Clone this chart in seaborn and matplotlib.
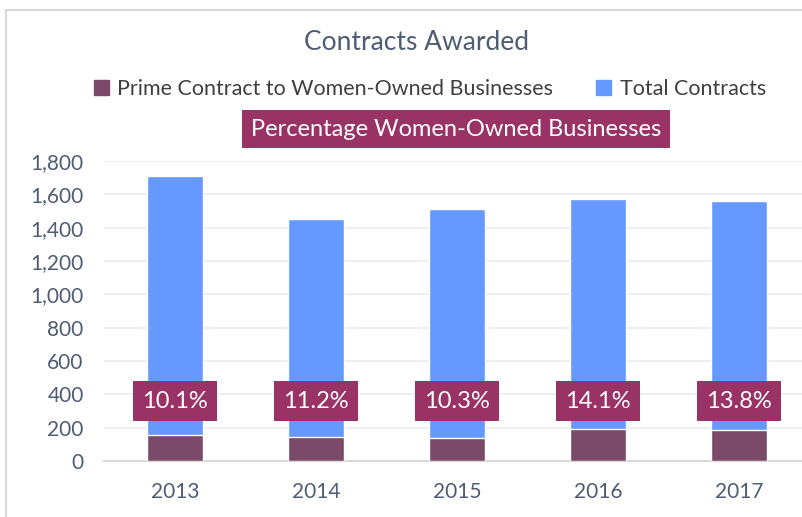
import matplotlib.pyplot as plt
import matplotlib.lines as mlines
import matplotlib.patches as mpatches
import pandas as pd
import seaborn as sns

years = ['2013', '2014', '2015', '2016', '2017']
prime = [157, 146, 141, 195, 189]
total = [1555, 1306, 1373, 1380, 1373]
pct_labels = ['10.1%', '11.2%', '10.3%', '14.1%', '13.8%']

df = pd.DataFrame({'year': years, 'prime': prime, 'total': total})
df['stacked'] = df['prime'] + df['total']

sns.set_style('white')
plt.rcParams['font.family'] = ['Lato', 'DejaVu Sans']

W, H = 803, 517
fig = plt.figure(figsize=(W / 100, H / 100), dpi=100)
ax = fig.add_axes([104.5 / W, 1 - 461 / H, 705 / W, 300 / H])

c_prime = '#7B4A68'
c_total = '#6699FF'
c_box = '#993366'
c_text = '#4F5D73'

# stacked look: draw the summed bar first, prime over it
sns.barplot(data=df, x='year', y='stacked', color=c_total, width=0.4,
            saturation=1, ax=ax, zorder=2)
sns.barplot(data=df, x='year', y='prime', color=c_prime, width=0.4,
            saturation=1, ax=ax, zorder=3)

for i, lab in enumerate(pct_labels):
    ax.text(i, 360, lab, ha='center', va='center', color='white', fontsize=17,
            zorder=5,
            bbox=dict(boxstyle='square,pad=0.4', fc=c_box, ec='none'))

ax.set_ylim(0, 1800)
ax.set_xlim(-0.5, 4.5)
ax.set_yticks(range(0, 1801, 200))
ax.set_yticklabels([f'{v:,}' for v in range(0, 1801, 200)])
ax.grid(axis='y', color='#EBEBEB', lw=1.2, zorder=0)
ax.set_axisbelow(True)
for s in ['top', 'right', 'left']:
    ax.spines[s].set_visible(False)
ax.spines['bottom'].set_color('#D9D9D9')
ax.spines['bottom'].set_linewidth(1.5)
ax.tick_params(axis='y', length=0, pad=15, labelsize=15, labelcolor=c_text)
ax.tick_params(axis='x', length=0, pad=15, labelsize=15, labelcolor=c_text)
ax.set_xlabel('')
ax.set_ylabel('')

fig.text(417 / W, 1 - 42 / H, 'Contracts Awarded', ha='center', va='center',
         fontsize=19, color=c_text)

handles = [mpatches.Patch(color=c_prime, label='Prime Contract to Women-Owned Businesses'),
           mpatches.Patch(color=c_total, label='Total Contracts')]
fig.legend(handles=handles, loc='center', bbox_to_anchor=(430 / W, 1 - 89 / H),
           ncol=2, frameon=False, fontsize=15.5, handlelength=0.7,
           handleheight=0.7, handletextpad=0.4, columnspacing=2.0,
           labelcolor='#404040')

fig.text(456 / W, 1 - 129 / H, 'Percentage Women-Owned Businesses', ha='center',
         va='center', fontsize=17, color='white',
         bbox=dict(boxstyle='square,pad=0.36', fc=c_box, ec='none'))

fig.add_artist(mlines.Line2D([6 / W, 6 / W], [0, 1 - 10 / H], color='#D9D9D9', lw=1.5))
fig.add_artist(mlines.Line2D([6 / W, 1], [1 - 10 / H, 1 - 10 / H], color='#D9D9D9', lw=1.5))

fig.savefig('out.png', dpi=100)
